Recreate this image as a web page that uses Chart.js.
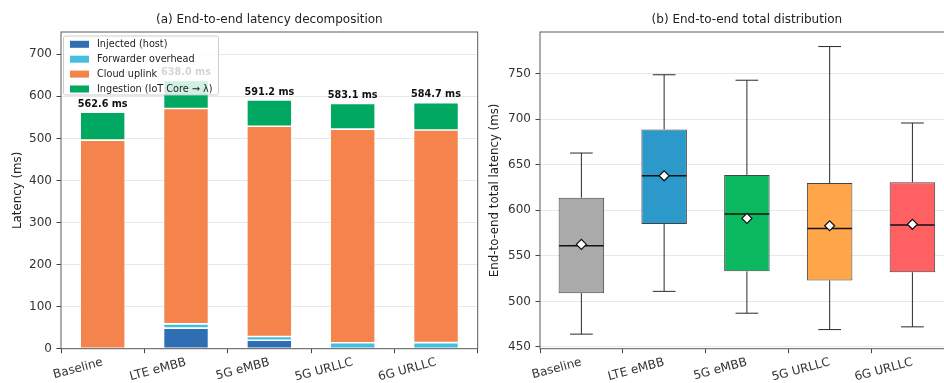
<!DOCTYPE html>
<html>
<head>
<meta charset="utf-8">
<script src="https://cdn.jsdelivr.net/npm/chart.js@4.4.1/dist/chart.umd.min.js"></script>
<style>
    html, body { margin: 0; padding: 0; background: #fff; overflow: hidden; }
    #wrap { position: relative; width: 944px; height: 383px; overflow: hidden; }
    canvas { position: absolute; top: 0; }
    #chartDecomp { left: 0; }
    #chartBox { left: 470px; }
</style>
</head>
<body>
<div id="wrap">
    <canvas id="chartDecomp" width="480" height="383"></canvas>
    <canvas id="chartBox" width="490" height="383"></canvas>
</div>
<script>
const categories = ['Baseline', 'LTE eMBB', '5G eMBB', '5G URLLC', '6G URLLC'];

// (a) stacked decomposition, ms
const injectedHost = [0, 49, 20, 0, 0];
const forwarderOverhead = [0, 10, 9, 14, 14.5];
const cloudUplink = [496, 512, 500, 508, 505.5];
const ingestion = [66.6, 67, 62.2, 61.1, 64.7];
const totals = [562.6, 638.0, 591.2, 583.1, 584.7];
const leftTicks = [0, 100, 200, 300, 400, 500, 600, 700];

// (b) box stats, ms
const boxLow = [464, 511, 487, 469, 472];
const boxQ1 = [509, 585, 533, 523, 532];
const boxMedian = [561, 638, 596, 580, 584];
const boxQ3 = [614, 689, 639, 630, 631];
const boxHigh = [663, 749, 743, 780, 696];
const boxMean = [562.6, 638.0, 591.2, 583.1, 584.7];
const rightTicks = [450, 500, 550, 600, 650, 700, 750];

Chart.defaults.font.family = "'DejaVu Sans', sans-serif";
Chart.defaults.color = '#333';
Chart.defaults.animation = false;

const FRAME = '#5a5a5a';
const GRID = '#e8e8e8';
const TICK_FONT = { size: 12 };

const drawFrame = (chart) => {
    const { ctx, chartArea: a } = chart;
    ctx.save();
    ctx.strokeStyle = FRAME;
    ctx.lineWidth = 1;
    ctx.strokeRect(a.left, a.top, a.right - a.left, a.bottom - a.top);
    ctx.restore();
};

const fixedSize = (w, h) => (scale) => {
    if (w != null) scale.width = w;
    if (h != null) scale.height = h;
};

const decompPlugin = {
    id: 'decompExtras',
    afterDatasetsDraw(chart) {
        drawFrame(chart);
        const { ctx, scales: { x, y } } = chart;
        ctx.save();
        ctx.font = "bold 9.7px 'DejaVu Sans'";
        ctx.fillStyle = '#111';
        ctx.textAlign = 'center';
        ctx.textBaseline = 'bottom';
        totals.forEach((t, i) => {
            ctx.fillText(t.toFixed(1) + ' ms', x.getPixelForValue(i), y.getPixelForValue(t) - 3);
        });
        ctx.restore();
    },
    afterDraw(chart) {
        // legend box (upper left), drawn over the labels like matplotlib's framealpha
        const { ctx } = chart;
        const bx = 63.5, by = 36, bw = 155, bh = 59;
        ctx.save();
        ctx.beginPath();
        ctx.roundRect(bx, by, bw, bh, 2);
        ctx.fillStyle = 'rgba(255,255,255,0.82)';
        ctx.fill();
        ctx.strokeStyle = 'rgba(200,200,200,0.9)';
        ctx.lineWidth = 1;
        ctx.stroke();
        ctx.font = "9.7px 'DejaVu Sans'";
        ctx.textBaseline = 'middle';
        ctx.textAlign = 'left';
        chart.data.datasets.forEach((ds, i) => {
            const cy = 44.3 + i * 14.9;
            ctx.fillStyle = ds.backgroundColor;
            ctx.fillRect(70, cy - 3.5, 19, 7);
            ctx.fillStyle = '#222';
            ctx.fillText(ds.label, 97, cy + 0.5);
        });
        ctx.restore();
    },
};

new Chart(document.getElementById('chartDecomp'), {
    type: 'bar',
    data: {
        labels: categories,
        datasets: [
            { label: 'Injected (host)', data: injectedHost, backgroundColor: '#306eb4' },
            { label: 'Forwarder overhead', data: forwarderOverhead, backgroundColor: '#45bfe0' },
            { label: 'Cloud uplink', data: cloudUplink, backgroundColor: '#f4844c' },
            { label: 'Ingestion (IoT Core \u2192 \u03bb)', data: ingestion, backgroundColor: '#00a862' },
        ].map((d) => ({
            ...d,
            borderColor: 'rgba(255,255,255,0.85)',
            borderWidth: 0.8,
            borderSkipped: false,
            barPercentage: 0.54,
            categoryPercentage: 1,
        })),
    },
    options: {
        responsive: false,
        layout: { padding: { left: 0, right: 2.3, top: 0, bottom: 0 } },
        plugins: {
            legend: { display: false },
            tooltip: { enabled: false },
            title: {
                display: true,
                fullSize: false,
                text: '(a) End-to-end latency decomposition',
                color: '#222',
                font: { size: 12, weight: 'normal' },
                padding: { top: 13, bottom: 4.6 },
            },
        },
        scales: {
            x: {
                stacked: true,
                afterFit: fixedSize(null, 34.3),
                grid: { drawOnChartArea: false, tickColor: '#444', tickLength: 4.5 },
                border: { display: false },
                ticks: { minRotation: 15, maxRotation: 15, padding: 2, font: TICK_FONT, autoSkip: false },
            },
            y: {
                stacked: true,
                min: 0,
                max: 753,
                afterFit: fixedSize(61, null),
                afterBuildTicks: (s) => { s.ticks = leftTicks.map((v) => ({ value: v })); },
                grid: { color: GRID, tickColor: '#444', tickLength: 4.5 },
                border: { display: false },
                ticks: { padding: 4.5, font: TICK_FONT },
                title: {
                    display: true,
                    text: 'Latency (ms)',
                    color: '#222',
                    font: { size: 11.8 },
                    padding: { top: 11, bottom: 0 },
                },
            },
        },
    },
    plugins: [decompPlugin],
});

const boxPlugin = {
    id: 'boxExtras',
    afterDatasetDraw(chart, args) {
        if (args.index !== 0) return;
        const { ctx, scales: { x, y } } = chart;
        const bars = args.meta.data;
        ctx.save();
        categories.forEach((c, i) => {
            const cx = x.getPixelForValue(i);
            const w = bars[i].width;
            const cap = w / 2;
            ctx.strokeStyle = '#2a2a2a';
            ctx.lineWidth = 1;
            ctx.beginPath();
            ctx.moveTo(cx, y.getPixelForValue(boxQ3[i]));
            ctx.lineTo(cx, y.getPixelForValue(boxHigh[i]));
            ctx.moveTo(cx, y.getPixelForValue(boxQ1[i]));
            ctx.lineTo(cx, y.getPixelForValue(boxLow[i]));
            ctx.moveTo(cx - cap / 2, y.getPixelForValue(boxHigh[i]));
            ctx.lineTo(cx + cap / 2, y.getPixelForValue(boxHigh[i]));
            ctx.moveTo(cx - cap / 2, y.getPixelForValue(boxLow[i]));
            ctx.lineTo(cx + cap / 2, y.getPixelForValue(boxLow[i]));
            ctx.stroke();
            ctx.strokeStyle = '#111';
            ctx.lineWidth = 1.5;
            ctx.beginPath();
            ctx.moveTo(cx - w / 2 + 0.5, y.getPixelForValue(boxMedian[i]));
            ctx.lineTo(cx + w / 2 - 0.5, y.getPixelForValue(boxMedian[i]));
            ctx.stroke();
        });
        ctx.restore();
    },
    afterDatasetsDraw(chart) {
        drawFrame(chart);
    },
};

new Chart(document.getElementById('chartBox'), {
    type: 'bar',
    data: {
        labels: categories,
        datasets: [
            {
                label: 'IQR',
                data: boxQ1.map((q, i) => [q, boxQ3[i]]),
                backgroundColor: ['#aaaaaa', '#2b9acb', '#0ab95f', '#ffa54a', '#ff6163'],
                borderColor: '#444',
                borderWidth: 1,
                borderSkipped: false,
                barPercentage: 0.55,
                categoryPercentage: 1,
                order: 1,
            },
            {
                type: 'line',
                label: 'Mean',
                data: boxMean,
                showLine: false,
                pointStyle: 'rectRot',
                pointRadius: 5,
                pointBackgroundColor: '#fff',
                pointBorderColor: '#111',
                pointBorderWidth: 1.2,
                order: 0,
            },
        ],
    },
    options: {
        responsive: false,
        layout: { padding: { left: 0, right: 3.3, top: 0, bottom: 0 } },
        plugins: {
            legend: { display: false },
            tooltip: { enabled: false },
            title: {
                display: true,
                fullSize: false,
                text: '(b) End-to-end total distribution',
                color: '#222',
                font: { size: 12, weight: 'normal' },
                padding: { top: 13, bottom: 4.6 },
            },
        },
        scales: {
            x: {
                afterFit: fixedSize(null, 34.3),
                grid: { drawOnChartArea: false, tickColor: '#444', tickLength: 4.5 },
                border: { display: false },
                ticks: { minRotation: 15, maxRotation: 15, padding: 2, font: TICK_FONT, autoSkip: false },
            },
            y: {
                min: 448,
                max: 796,
                afterFit: fixedSize(70, null),
                afterBuildTicks: (s) => { s.ticks = rightTicks.map((v) => ({ value: v })); },
                grid: { color: GRID, tickColor: '#444', tickLength: 4.5 },
                border: { display: false },
                ticks: { padding: 4.5, font: TICK_FONT },
                title: {
                    display: true,
                    text: 'End-to-end total latency (ms)',
                    color: '#222',
                    font: { size: 11.8 },
                    padding: { top: 17.5, bottom: 0 },
                },
            },
        },
    },
    plugins: [boxPlugin],
});
</script>
</body>
</html>
